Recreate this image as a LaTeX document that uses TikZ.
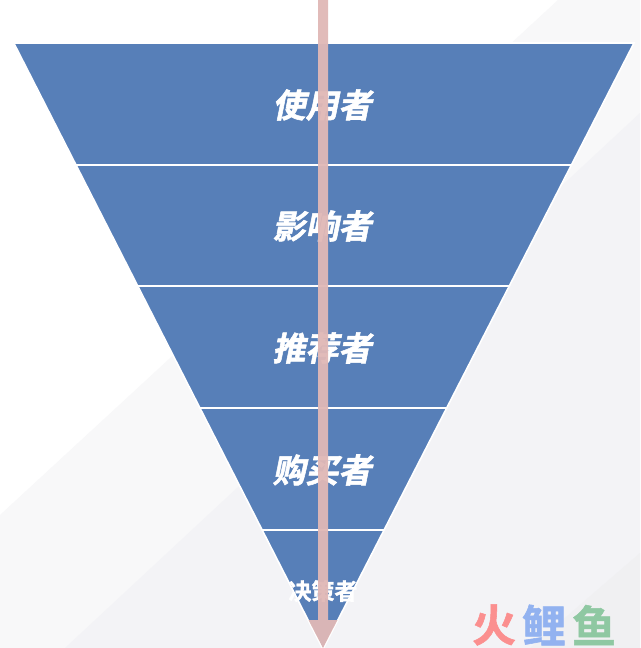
\documentclass[tikz,border=0pt]{standalone}
\usepackage{fontspec}
\newfontfamily\cjkslant[FakeSlant=0.2,FakeBold=1.6]{Noto Sans CJK SC Bold}
\newfontfamily\cjkbold[FakeBold=1.2]{Noto Sans CJK SC Bold}
\definecolor{bandblue}{HTML}{577FB8}
\definecolor{shaftpink}{HTML}{E0B8B6}
\definecolor{bgone}{HTML}{F8F8F9}
\definecolor{bgtwo}{HTML}{F3F3F6}
\definecolor{bgthree}{HTML}{F0F0F2}
\definecolor{logored}{HTML}{FB8F8F}
\definecolor{logoblue}{HTML}{92B2F0}
\definecolor{logogreen}{HTML}{8FC8A2}
\tikzset{
  band/.style={fill=bandblue,draw=white,line width=1.6pt,line join=miter},
  bandtext/.style={text=white,font=\cjkslant\fontsize{33}{33}\selectfont,inner sep=0pt},
  logotext/.style={font=\cjkbold\fontsize{44}{44}\selectfont,inner sep=0pt},
}
\begin{document}
\begin{tikzpicture}[x=1pt,y=-1pt]
    \useasboundingbox (0,0) rectangle (640,648);
    % background
    \fill[white] (0,0) rectangle (640,648);
    \fill[bgone] (0,515) -- (558,0) -- (640,0) -- (640,648) -- (0,648) -- cycle;
    \fill[bgtwo] (65,648) -- (640,113) -- (640,648) -- cycle;
    \fill[bgthree] (530,648) -- (640,553) -- (640,648) -- cycle;
    % funnel
    \coordinate (apex) at (323,648);
    \foreach \ya/\yb in {43/165,165/286,286/408,408/530,530/648} {
        \pgfmathsetmacro{\la}{13.8+0.51*(\ya-43)}
        \pgfmathsetmacro{\lb}{13.8+0.51*(\yb-43)}
        \pgfmathsetmacro{\ra}{634-0.5132*(\ya-43)}
        \pgfmathsetmacro{\rb}{634-0.5132*(\yb-43)}
        \draw[band] (\la,\ya) -- (\ra,\ya) -- (\rb,\yb) -- (\lb,\yb) -- cycle;
      }
    \node[bandtext] (user) at (322,105) {使用者};
    \node[bandtext] (influencer) at (322,226) {影响者};
    \node[bandtext] (recommender) at (322,348) {推荐者};
    \node[bandtext] (buyer) at (322,470) {购买者};
    \node[text=white,font=\cjkbold\fontsize{23}{23}\selectfont,inner sep=0pt] (decider) at (323,591) {决策者};
    % arrow
    \fill[shaftpink,opacity=0.95] (318,0) -- (328,0) -- (328,620) -- (337.5,620) -- (apex) -- (308.5,620) -- (318,620) -- cycle;
    % logo
    \node[logotext,text=logored] (huo) at (494,625) {火};
    \node[logotext,text=logoblue] (li) at (544,625) {鲤};
    \node[logotext,text=logogreen] (yu) at (594,625) {鱼};
\end{tikzpicture}
\end{document}
